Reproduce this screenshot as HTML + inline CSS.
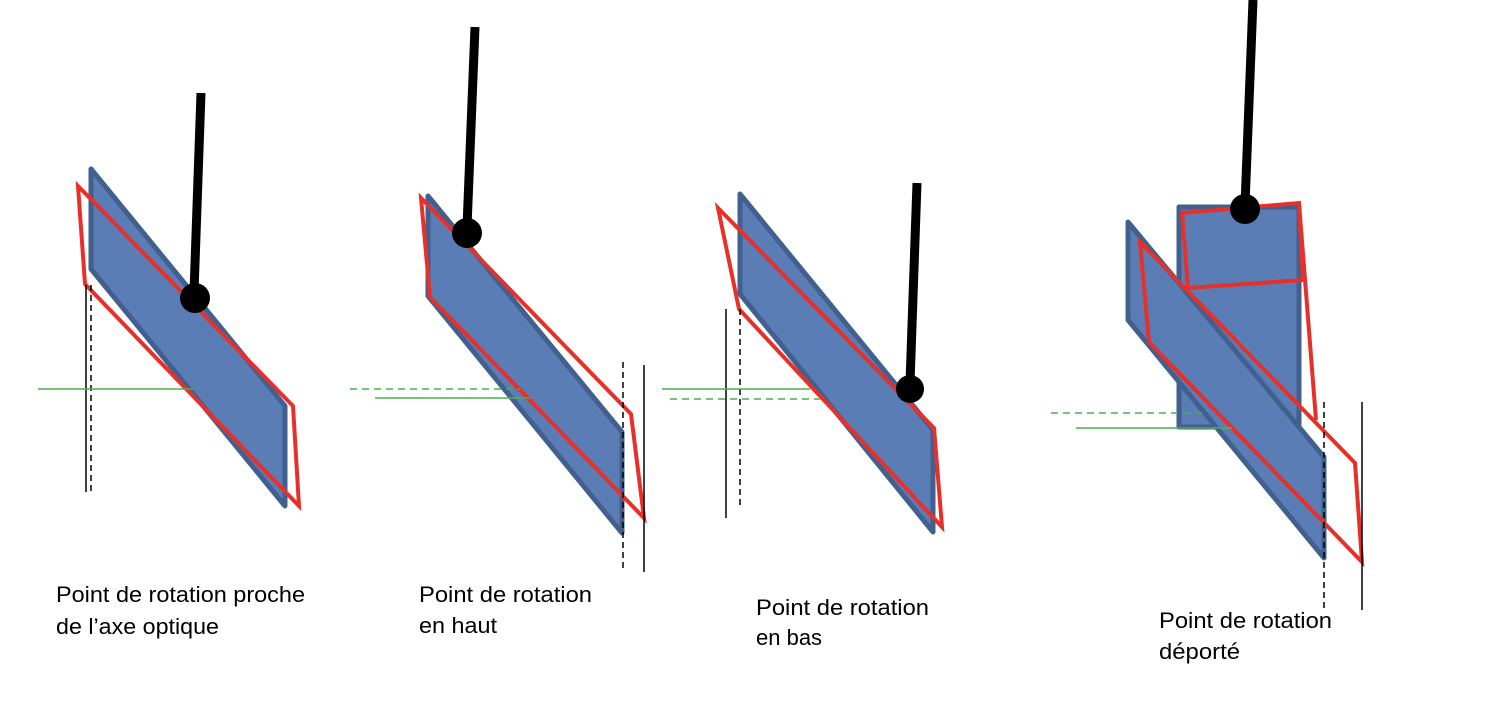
<!DOCTYPE html>
<html><head><meta charset="utf-8"><style>
html,body{margin:0;padding:0;background:#fff;width:1500px;height:724px;overflow:hidden}
svg text{font-family:"Liberation Sans",sans-serif;font-size:22px;fill:#000}
</style></head><body>
<svg width="1500" height="724" viewBox="0 0 1500 724">
<g fill="#5b7db5" stroke="#41608f" stroke-width="5" stroke-linejoin="round">
<polygon points="91,169 91,269 285,506 285,406"/>
<polygon points="428,196 428,296 622,533 622,432"/>
<polygon points="740,194 740,294 933,532 933,430"/>
<rect x="1179" y="207" width="120" height="220"/>
<polygon points="1128,222 1128,320 1324,558 1324,457"/>
</g>
<g fill="none" stroke="#e8302a" stroke-width="4" stroke-linejoin="miter">
<polygon points="78,186 85,284 299,506 293,406"/>
<polygon points="421,198 430,297 644,518 631,414"/>
<polygon points="718,208 739,309 942,527 934,428"/>
<polygon points="1182,213 1299,203 1303,280 1188,288"/>
<polyline points="1299,203 1316,420"/>
<polygon points="1140,242 1149,342 1362,562 1355,463"/>
</g>
<g stroke="#000" stroke-width="9">
<line x1="201" y1="93" x2="194" y2="292"/>
<line x1="475" y1="27" x2="467" y2="227"/>
<line x1="917" y1="183" x2="910" y2="383"/>
<line x1="1253" y1="0" x2="1245" y2="205"/>
</g>
<g fill="#000">
<circle cx="195" cy="298" r="15"/>
<circle cx="467" cy="233" r="15"/>
<circle cx="910" cy="389" r="14"/>
<circle cx="1245" cy="209" r="15"/>
</g>
<g stroke="#000" stroke-width="1.5">
<line x1="86" y1="285" x2="86" y2="492"/>
<line x1="644" y1="365" x2="644" y2="572"/>
<line x1="726" y1="309" x2="726" y2="518"/>
<line x1="1362" y1="402" x2="1362" y2="610"/>
</g>
<g stroke="#000" stroke-width="1.5" stroke-dasharray="6,4">
<line x1="91" y1="285" x2="91" y2="492"/>
<line x1="623" y1="362" x2="623" y2="570"/>
<line x1="740" y1="309" x2="740" y2="505"/>
<line x1="1324" y1="402" x2="1324" y2="610"/>
</g>
<g stroke="#4caf50" stroke-width="1.5">
<line x1="38" y1="389" x2="193" y2="389"/>
<line x1="375" y1="398" x2="530" y2="398"/>
<line x1="662" y1="389" x2="810" y2="389"/>
<line x1="1076" y1="428" x2="1232" y2="428"/>
</g>
<g stroke="#4caf50" stroke-width="1.5" stroke-dasharray="7,5">
<line x1="350" y1="389" x2="520" y2="389"/>
<line x1="670" y1="399" x2="820" y2="399"/>
<line x1="1051" y1="413" x2="1205" y2="413"/>
</g>
<text x="56" y="602" textLength="249" lengthAdjust="spacingAndGlyphs">Point de rotation proche</text>
<text x="56" y="634" textLength="163" lengthAdjust="spacingAndGlyphs">de l’axe optique</text>
<text x="419" y="602" textLength="173" lengthAdjust="spacingAndGlyphs">Point de rotation</text>
<text x="419" y="633" textLength="78" lengthAdjust="spacingAndGlyphs">en haut</text>
<text x="756" y="615" textLength="173" lengthAdjust="spacingAndGlyphs">Point de rotation</text>
<text x="756" y="645">en bas</text>
<text x="1159" y="628" textLength="173" lengthAdjust="spacingAndGlyphs">Point de rotation</text>
<text x="1159" y="659" textLength="81" lengthAdjust="spacingAndGlyphs">déporté</text>
</svg>
</body></html>
